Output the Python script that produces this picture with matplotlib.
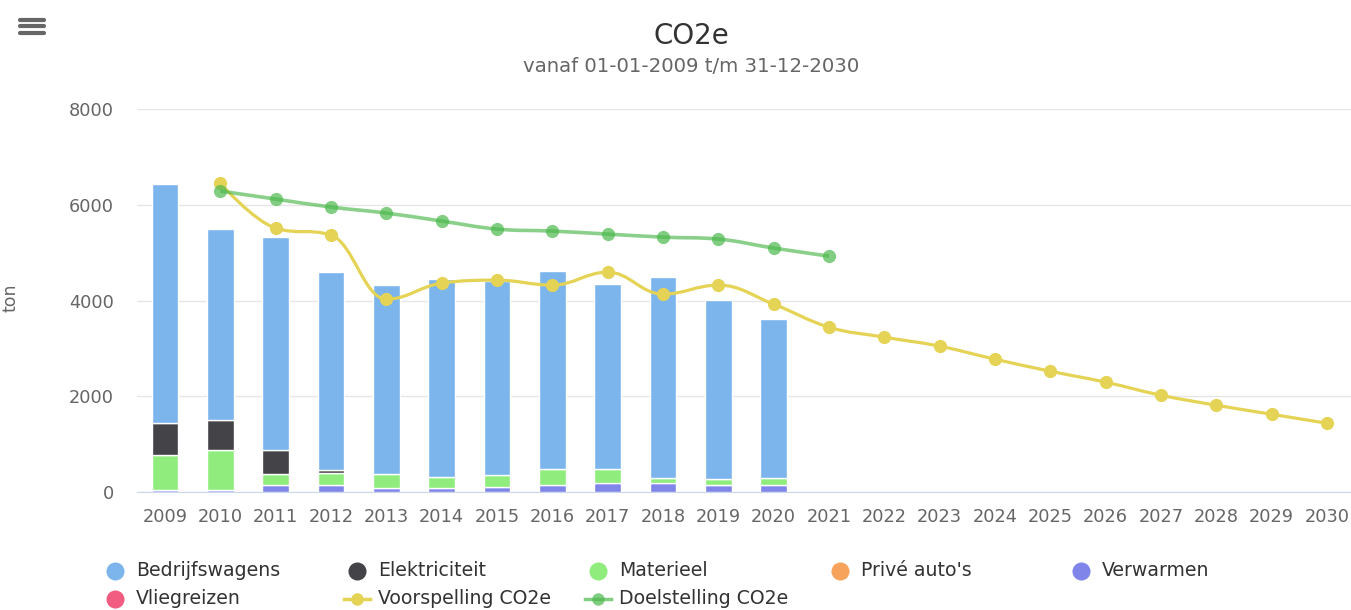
import matplotlib
matplotlib.use('Agg')
from matplotlib import pyplot as plt
from matplotlib.path import Path
from matplotlib.patches import PathPatch
from matplotlib.lines import Line2D
import numpy as np

# Gegevens (ton CO2e)
years = [str(y) for y in range(2009, 2031)]
bar_years = years[:12]
bedrijfswagens = [4985, 3976, 4449, 4121, 3948, 4130, 4052, 4129, 3858, 4185, 3732, 3308]
elektriciteit = [660, 640, 500, 63, 0, 0, 0, 0, 0, 0, 0, 0]
materieel = [730, 820, 230, 265, 300, 235, 237, 335, 300, 118, 126, 154]
prive_autos = [0] * 12
verwarmen = [57, 57, 146, 146, 84, 84, 118, 152, 188, 188, 152, 152]
vliegreizen = [0] * 12

forecast_years = years[1:]
voorspelling = [6454, 5514, 5368, 4031, 4365, 4428, 4324, 4595, 4136, 4324, 3927,
                3446, 3238, 3050, 2778, 2527, 2298, 2026, 1817, 1629, 1441]
target_years = years[1:13]
doelstelling = [6287, 6120, 5953, 5828, 5661, 5494, 5452, 5389, 5326, 5285, 5097, 4930]

colors = {
    'Bedrijfswagens': '#7cb5ec',
    'Elektriciteit': '#434348',
    'Materieel': '#90ed7d',
    "Privé auto's": '#f7a35c',
    'Verwarmen': '#8085e9',
    'Vliegreizen': '#f15c80',
}
yellow = '#e4d354'
green = '#4cb84c'


def spline_path(xs, ys, smoothing=1.5):
    """Highcharts-achtige spline als Bezier-pad."""
    denom = smoothing + 1
    n = len(xs)
    left, right = [], []
    for i in range(n):
        x, y = xs[i], ys[i]
        if 0 < i < n - 1:
            lx = (smoothing * x + xs[i - 1]) / denom
            ly = (smoothing * y + ys[i - 1]) / denom
            rx = (smoothing * x + xs[i + 1]) / denom
            ry = (smoothing * y + ys[i + 1]) / denom
            if rx != lx:
                corr = ((ry - ly) * (rx - x)) / (rx - lx) + y - ry
                ly += corr
                ry += corr
            if ly > ys[i - 1] and ly > y:
                ly = max(ys[i - 1], y)
                ry = 2 * y - ly
            elif ly < ys[i - 1] and ly < y:
                ly = min(ys[i - 1], y)
                ry = 2 * y - ly
            if ry > ys[i + 1] and ry > y:
                ry = max(ys[i + 1], y)
                ly = 2 * y - ry
            elif ry < ys[i + 1] and ry < y:
                ry = min(ys[i + 1], y)
                ly = 2 * y - ry
            left.append((lx, ly))
            right.append((rx, ry))
        else:
            left.append((x, y))
            right.append((x, y))
    verts = [(xs[0], ys[0])]
    codes = [Path.MOVETO]
    for i in range(1, n):
        verts += [right[i - 1], left[i], (xs[i], ys[i])]
        codes += [Path.CURVE4] * 3
    return Path(verts, codes)


W, H = 1351, 610
fig = plt.figure(figsize=(W / 100, H / 100), dpi=100)
ax_left, ax_right = 137.3, 1354.7
ax_top, ax_bottom = 109, 492.3
ax = fig.add_axes([ax_left / W, (H - ax_bottom) / H,
                   (ax_right - ax_left) / W, (ax_bottom - ax_top) / H])

xpos = np.arange(len(years))
bx = xpos[:12]

# Gestapelde kolommen (eerste serie bovenop)
stack = [('Vliegreizen', vliegreizen), ('Verwarmen', verwarmen),
         ("Privé auto's", prive_autos), ('Materieel', materieel),
         ('Elektriciteit', elektriciteit), ('Bedrijfswagens', bedrijfswagens)]
bottom = np.zeros(12)
for name, vals in stack:
    vals = np.array(vals, dtype=float)
    mask = vals > 0
    ax.bar(bx[mask], vals[mask], width=0.48, bottom=bottom[mask],
           color=colors[name], edgecolor='white', linewidth=1, zorder=2)
    bottom += vals

# Voorspelling
fx = np.array([years.index(y) for y in forecast_years], dtype=float)
ax.add_patch(PathPatch(spline_path(fx, voorspelling), facecolor='none',
                       edgecolor=yellow, lw=2.3, zorder=3))
ax.plot(fx, voorspelling, 'o', color=yellow, ms=9.5, mec='none', zorder=4)

# Doelstelling
tx = np.array([years.index(y) for y in target_years], dtype=float)
ax.add_patch(PathPatch(spline_path(tx, doelstelling), facecolor='none',
                       edgecolor=green, lw=2.6, alpha=0.65, zorder=5))
ax.plot(tx, doelstelling, 'o', color=green, ms=9.5, mec='none', alpha=0.7, zorder=6)

ax.set_xlim(-0.5, len(years) - 0.5)
ax.set_ylim(0, 8000)
ax.set_yticks([0, 2000, 4000, 6000, 8000])
ax.set_yticklabels(['0', '2000', '4000', '6000', '8000'])
ax.set_xticks(xpos)
ax.set_xticklabels(years)
ax.tick_params(axis='both', length=0, labelsize=12.8, colors='#666666')
ax.tick_params(axis='x', pad=11)
ax.tick_params(axis='y', pad=17)
ax.grid(axis='y', color='#e6e6e6', lw=1, zorder=0)
ax.set_axisbelow(True)
for s in ['top', 'right', 'left']:
    ax.spines[s].set_visible(False)
ax.spines['bottom'].set_color('#ccd6eb')
ax.spines['bottom'].set_zorder(1)

# Titels
fig.text(691 / W, 1 - 36 / H, 'CO2e', ha='center', va='center', fontsize=20, color='#333333')
fig.text(691 / W, 1 - 66 / H, 'vanaf 01-01-2009 t/m 31-12-2030', ha='center', va='center',
         fontsize=14.2, color='#666666')
fig.text(11 / W, 1 - 298 / H, 'ton', rotation=90, ha='center', va='center',
         fontsize=12.5, color='#666666')

# Menu-icoon
for yy in [19.5, 26, 32.5]:
    fig.add_artist(Line2D([20 / W, 44 / W], [1 - yy / H] * 2, color='#666666', lw=3,
                          solid_capstyle='round'))

# Legenda
legend_items = [
    ('Bedrijfswagens', colors['Bedrijfswagens'], 'bar', 115, 571),
    ('Elektriciteit', colors['Elektriciteit'], 'bar', 357, 571),
    ('Materieel', colors['Materieel'], 'bar', 598, 571),
    ("Privé auto's", colors["Privé auto's"], 'bar', 840, 571),
    ('Verwarmen', colors['Verwarmen'], 'bar', 1081, 571),
    ('Vliegreizen', colors['Vliegreizen'], 'bar', 115, 599),
    ('Voorspelling CO2e', yellow, 'line', 357, 599),
    ('Doelstelling CO2e', green, 'line', 598, 599),
]
for label, col, kind, sx, sy in legend_items:
    yf = 1 - sy / H
    if kind == 'bar':
        fig.add_artist(Line2D([sx / W], [yf], marker='o', ms=13, color=col, mec='none'))
    else:
        a = 0.7 if col == green else 1.0
        fig.add_artist(Line2D([(sx - 13) / W, (sx + 13) / W], [yf, yf], color=col, lw=2.5, alpha=a))
        fig.add_artist(Line2D([sx / W], [yf], marker='o', ms=9, color=col, mec='none', alpha=a))
    fig.text((sx + 21) / W, yf, label, ha='left', va='center', fontsize=13.6, color='#333333')

fig.savefig('out.png', dpi=100)
